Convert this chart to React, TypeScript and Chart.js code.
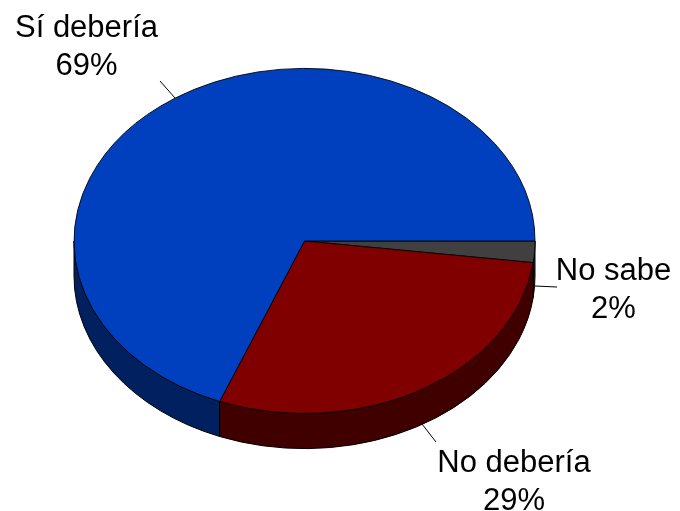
import React, { useEffect, useRef } from "react";
import { Chart, registerables } from "chart.js";

Chart.register(...registerables);

const categories = ["No sabe", "No debería", "Sí debería"];
const shares = [2, 29, 69];
const topColors = ["#404040", "#800000", "#0040BF"];
const wallColors = ["#202020", "#400000", "#002060"];

const SQUASH = 173 / 231;
const DEPTH = 35;
const FONT = '31px "Liberation Sans", Arial, sans-serif';
const LABEL_LAYOUT = [
  { x: 613.5, y: 280, lead: [535, 286, 557, 287] },
  { x: 514, y: 472, lead: [422, 424, 436, 442] },
  { x: 86.5, y: 37, lead: [175, 98, 160, 81] },
];

const pie3d = {
  id: "pie3d",
  beforeDatasetsDraw(chart: any) {
    const { ctx } = chart;
    const arcs = chart.getDatasetMeta(0).data;
    const { x: cx, y: cy, outerRadius: rx } = arcs[0];
    const ry = rx * SQUASH;
    ctx.save();
    ctx.lineWidth = 1;
    ctx.strokeStyle = "#000000";
    arcs.forEach((arc: any, i: number) => {
      const a0 = Math.max(arc.startAngle, 0);
      const a1 = Math.min(arc.endAngle, Math.PI);
      if (a1 <= a0) return;
      ctx.beginPath();
      ctx.ellipse(cx, cy, rx, ry, 0, a0, a1, false);
      ctx.ellipse(cx, cy + DEPTH, rx, ry, 0, a1, a0, true);
      ctx.closePath();
      ctx.fillStyle = wallColors[i];
      ctx.fill();
      ctx.stroke();
    });
    ctx.restore();
    ctx.save();
    ctx.translate(cx, cy);
    ctx.scale(1, SQUASH);
    ctx.translate(-cx, -cy);
  },
  afterDatasetsDraw(chart: any) {
    const { ctx } = chart;
    ctx.restore();
    ctx.save();
    ctx.strokeStyle = "#000000";
    ctx.lineWidth = 1;
    ctx.fillStyle = "#000000";
    ctx.font = FONT;
    ctx.textAlign = "center";
    ctx.textBaseline = "alphabetic";
    categories.forEach((name, i) => {
      const l = LABEL_LAYOUT[i];
      ctx.beginPath();
      ctx.moveTo(l.lead[0], l.lead[1]);
      ctx.lineTo(l.lead[2], l.lead[3]);
      ctx.stroke();
      ctx.fillText(name, l.x, l.y);
      ctx.fillText(`${shares[i]}%`, l.x, l.y + 37.5);
    });
    ctx.restore();
  },
};

export default function App() {
  const ref = useRef<HTMLCanvasElement>(null);
  useEffect(() => {
    const chart = new Chart(ref.current!, {
      type: "pie",
      data: {
        labels: categories,
        datasets: [
          {
            data: shares,
            backgroundColor: topColors,
            borderColor: "#000000",
            borderWidth: 1,
          },
        ],
      },
      options: {
        responsive: false,
        animation: false,
        rotation: 90,
        layout: { padding: { left: 73.5, right: 144.5, top: 10, bottom: 39 } },
        plugins: { legend: { display: false }, tooltip: { enabled: false } },
      },
      plugins: [pie3d],
    } as any);
    return () => chart.destroy();
  }, []);
  return (
    <div style={{ position: "absolute", left: 0, top: 0, width: 680, height: 511, background: "#fff" }}>
      <canvas ref={ref} width={680} height={511} style={{ display: "block" }} />
    </div>
  );
}
